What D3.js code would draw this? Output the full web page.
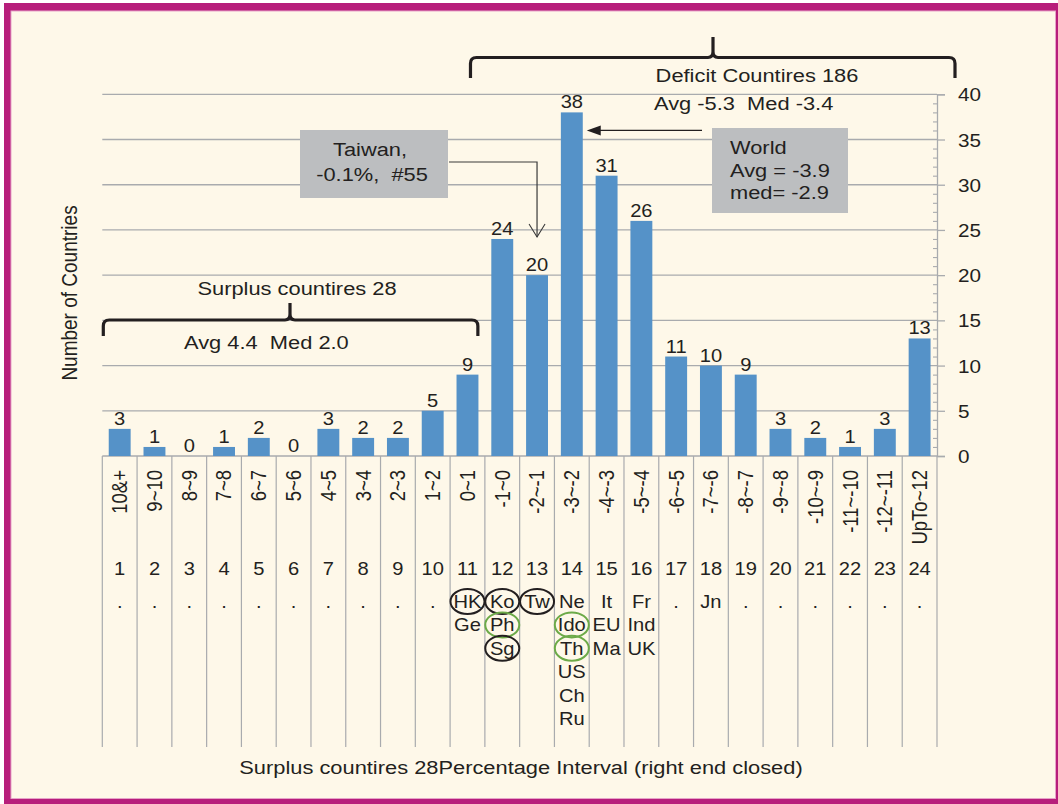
<!DOCTYPE html>
<html>
<head>
<meta charset="utf-8">
<script src="https://cdn.jsdelivr.net/npm/d3@7/dist/d3.min.js"></script>
<style>
  html, body { margin: 0; padding: 0; background: #ffffff; }
  svg { display: block; font-family: "Liberation Sans", Arial, sans-serif; }
  text { fill: #231f20; }
</style>
</head>
<body>
<svg id="chart" width="1058" height="804"></svg>
<script>
// Current-account balance intervals (% of GDP), surplus on the left, deficit on the right
const categories = ["10&+", "9~10", "8~9", "7~8", "6~7", "5~6", "4~5", "3~4", "2~3", "1~2", "0~1",
  "-1~0", "-2~-1", "-3~-2", "-4~-3", "-5~-4", "-6~-5", "-7~-6", "-8~-7", "-9~-8", "-10~-9",
  "-11~-10", "-12~-11", "UpTo~12"];
const counts = [3, 1, 0, 1, 2, 0, 3, 2, 2, 5, 9, 24, 20, 38, 31, 26, 11, 10, 9, 3, 2, 1, 3, 13];
const intervalNumbers = categories.map((c, i) => String(i + 1));
const yTicks = [0, 5, 10, 15, 20, 25, 30, 35, 40];

// Economies listed under each interval
const economies = [["."], ["."], ["."], ["."], ["."], ["."], ["."], ["."], ["."], ["."],
  ["HK", "Ge"], ["Ko", "Ph", "Sg"], ["Tw"], ["Ne", "Ido", "Th", "US", "Ch", "Ru"],
  ["It", "EU", "Ma"], ["Fr", "Ind", "UK"], ["."], ["Jn"], ["."], ["."], ["."], ["."], ["."], ["."]];
const ringedBlack = ["HK", "Ko", "Tw", "Sg"];
const ringedGreen = ["Ph", "Ido", "Th"];

const surplusTitle = "Surplus countires 28";
const surplusStats = "Avg 4.4  Med 2.0";
const deficitTitle = "Deficit Countires 186";
const deficitStats = "Avg -5.3  Med -3.4";
const taiwanNote = ["Taiwan,", "-0.1%,  #55"];
const worldNote = ["World", "Avg = -3.9", "med= -2.9"];
const taiwanIndex = 12;   // "-2~-1"
const worldIndex = 13;    // "-3~-2"
const worldAvgLevel = 36;

const SX = 1.15;          // horizontal stretch of the lettering
const ink = "#231f20";
const svg = d3.select("#chart");

// frame
svg.append("rect").attr("x", 4).attr("y", 3).attr("width", 1070).attr("height", 820).attr("fill", "#b71e7b");
svg.append("rect").attr("x", 11).attr("y", 11).attr("width", 1044.5).attr("height", 787.5)
  .attr("fill", "#fef8e9").attr("stroke", "#e7a3c9").attr("stroke-width", 1);

const x = d3.scaleBand().domain(categories).range([102.3, 937]).paddingInner(0.37).paddingOuter(0.185);
const y = d3.scaleLinear().domain([0, 40]).range([456, 94.3]);
const cx = c => x(c) + x.bandwidth() / 2;
const edge = i => x.range()[0] + i * x.step();
const [x0, x1] = x.range();

function label(g, px, py, s, size, anchor, rotate) {
  return g.append("text")
    .attr("transform", `translate(${px},${py}) scale(${SX},1)` + (rotate ? " rotate(-90)" : ""))
    .attr("text-anchor", anchor || "middle")
    .attr("font-size", size)
    .style("white-space", "pre")
    .text(s);
}

// gridlines
svg.append("g").selectAll("line").data(yTicks).join("line")
  .attr("x1", x0).attr("x2", x1).attr("y1", d => y(d)).attr("y2", d => y(d))
  .attr("stroke", "#a9abae").attr("stroke-width", 1.3);

// interval separators below the baseline
svg.append("g").selectAll("line").data(d3.range(categories.length + 1)).join("line")
  .attr("x1", d => edge(d)).attr("x2", d => edge(d)).attr("y1", y(0)).attr("y2", 747)
  .attr("stroke", "#a9abae").attr("stroke-width", 1.2);

// right value axis: major ticks outward, minor ticks inward
const major = svg.append("g").attr("transform", `translate(${x1},0)`)
  .call(d3.axisRight(y).tickValues(yTicks).tickSize(8).tickPadding(0));
major.select(".domain").attr("stroke", "#a9abae").attr("stroke-width", 1.3);
major.selectAll(".tick line").attr("stroke", "#a9abae").attr("stroke-width", 1.3);
major.selectAll(".tick text").attr("x", null).attr("dy", null)
  .attr("transform", `translate(21,6.5) scale(${SX},1)`)
  .attr("font-size", 18).attr("font-family", "Liberation Sans, Arial, sans-serif").attr("fill", ink);
const minor = svg.append("g").attr("transform", `translate(${x1},0)`)
  .call(d3.axisLeft(y).tickValues(d3.range(0, 41).filter(v => v % 5)).tickSize(4).tickFormat(""));
minor.select(".domain").remove();
minor.selectAll(".tick line").attr("stroke", "#a9abae").attr("stroke-width", 1.1);

// bars
svg.append("g").selectAll("rect").data(categories).join("rect")
  .attr("x", d => x(d)).attr("width", x.bandwidth())
  .attr("y", (d, i) => y(counts[i])).attr("height", (d, i) => y(0) - y(counts[i]))
  .attr("fill", "#5592c8");

// value labels
const vl = svg.append("g");
categories.forEach((c, i) => label(vl, cx(c), y(counts[i]) - 4, String(counts[i]), 17.5));

// interval labels, numbers and economies
const cl = svg.append("g");
categories.forEach((c, i) => {
  label(cl, cx(c), 470, c, 18.5, "end", true).attr("dy", "0.35em");
  label(cl, cx(c), 575, intervalNumbers[i], 17.5);
  economies[i].forEach((code, r) => {
    const by = 608 + r * 23.4;
    label(cl, cx(c), by, code, 17.5);
    const ring = ringedBlack.includes(code) ? ink : ringedGreen.includes(code) ? "#6caa48" : null;
    if (ring) {
      cl.append("ellipse").attr("cx", cx(c)).attr("cy", by - 6.5).attr("rx", 17).attr("ry", 12.5)
        .attr("fill", "none").attr("stroke", ring).attr("stroke-width", 2);
    }
  });
});

// axis titles
label(svg, 77, 293, "Number of Countries", 19, "middle", true);
label(svg, 521, 774, surplusTitle + "Percentage Interval (right end closed)", 19);

// braces
const brace = (xa, xb, xm, yLine, yEnd, yTip) =>
  `M${xa},${yEnd} V${yLine + 6} Q${xa},${yLine} ${xa + 6},${yLine} H${xm - 5} Q${xm},${yLine} ${xm},${yLine - 6} V${yTip}` +
  ` M${xm},${yLine - 6} Q${xm},${yLine} ${xm + 5},${yLine} H${xb - 6} Q${xb},${yLine} ${xb},${yLine + 6} V${yEnd}`;
const bl = edge(0) + 1, br = edge(11) - 7;
svg.append("path").attr("d", brace(bl, br, 290, 320, 336, 303))
  .attr("fill", "none").attr("stroke", ink).attr("stroke-width", 3.2);
const tl = cx(categories[10]) + 3, tr = x1 + 18;
svg.append("path").attr("d", brace(tl, tr, 713, 57.5, 78, 37))
  .attr("fill", "none").attr("stroke", ink).attr("stroke-width", 3.2);

label(svg, 297, 295, surplusTitle, 19);
label(svg, 184, 349, surplusStats, 19, "start");
label(svg, 757, 82, deficitTitle, 19);
label(svg, 654, 110, deficitStats, 19, "start");

// Taiwan call-out
svg.append("rect").attr("x", 300).attr("y", 130).attr("width", 148).attr("height", 68).attr("fill", "#bcbec0");
label(svg, 370, 156, taiwanNote[0], 19);
label(svg, 372, 181, taiwanNote[1], 19);
const tx = cx(categories[taiwanIndex]), tyTip = y(counts[taiwanIndex] + 4) - 2;
svg.append("path").attr("d", `M449,162 H${tx} V${tyTip}`)
  .attr("fill", "none").attr("stroke", "#3a3a3a").attr("stroke-width", 1.2);
svg.append("path").attr("d", `M${tx - 8},${tyTip - 13} L${tx},${tyTip} L${tx + 8},${tyTip - 13}`)
  .attr("fill", "none").attr("stroke", "#3a3a3a").attr("stroke-width", 1.1);

// World call-out
svg.append("rect").attr("x", 712).attr("y", 128).attr("width", 136).attr("height", 85).attr("fill", "#bcbec0");
worldNote.forEach((s, i) => label(svg, 730, 154 + i * 22.5, s, 19, "start"));
const wx = x(categories[worldIndex]) + x.bandwidth() + 4, wy = y(worldAvgLevel);
svg.append("line").attr("x1", 702).attr("x2", wx + 10).attr("y1", wy).attr("y2", wy)
  .attr("stroke", ink).attr("stroke-width", 1.3);
svg.append("path").attr("d", `M${wx},${wy} L${wx + 14},${wy - 5} L${wx + 14},${wy + 5} Z`).attr("fill", ink);
</script>
</body>
</html>
